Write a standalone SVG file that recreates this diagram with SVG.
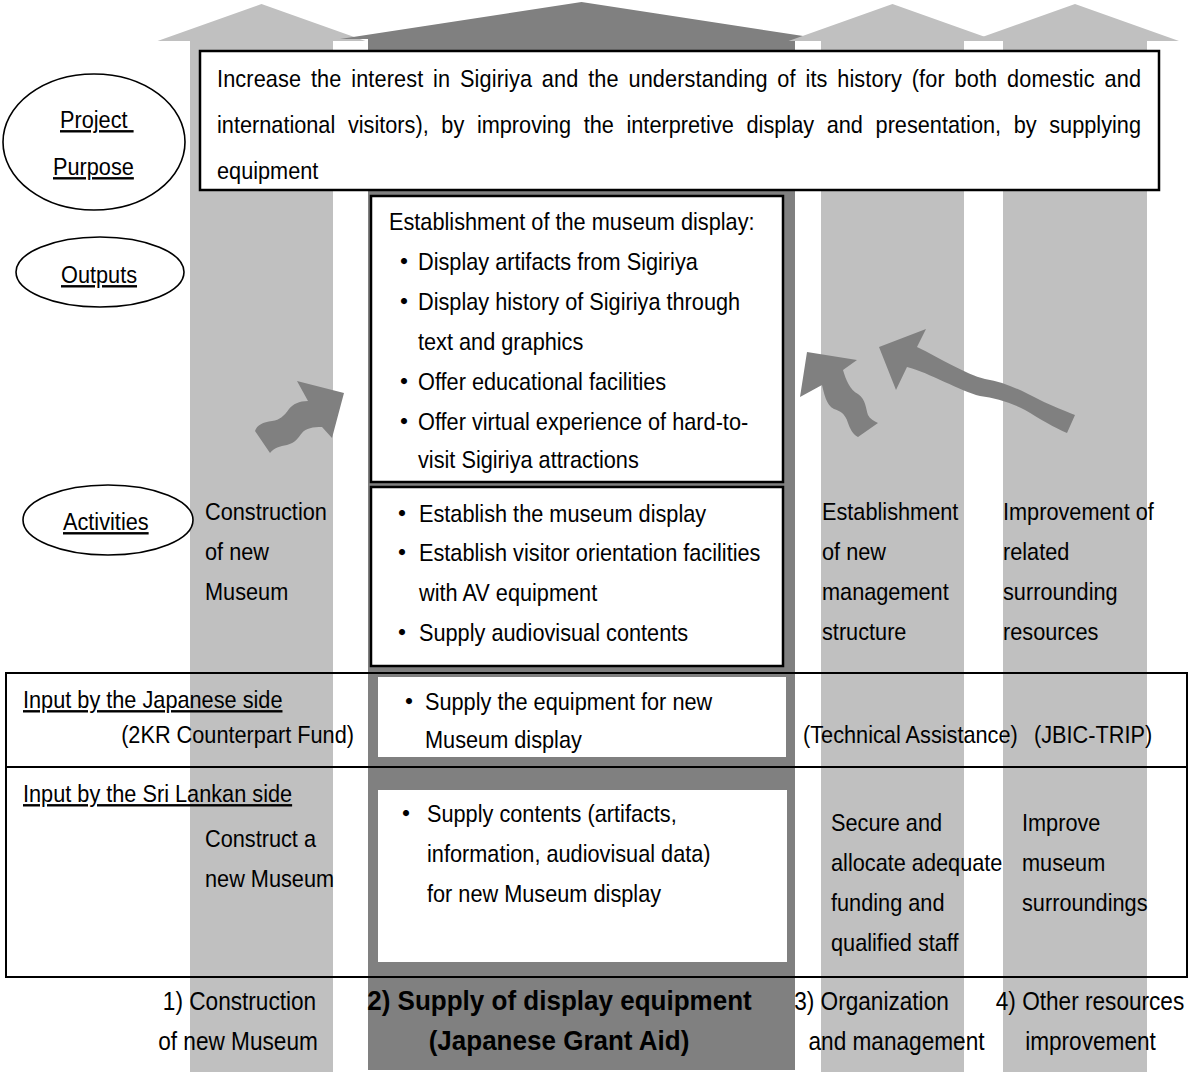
<svg xmlns="http://www.w3.org/2000/svg" width="1188" height="1077" viewBox="0 0 1188 1077">
<style>
.lt{fill:#c0c0c0}
.dk{fill:#808080}
.box{fill:#fff;stroke:#000;stroke-width:2.5}
.row{fill:none;stroke:#000;stroke-width:2}
.ell{fill:#fff;stroke:#000;stroke-width:1.6}
.wb{fill:#fff}
.t{font-family:"Liberation Sans",Arial,sans-serif;font-size:24px;fill:#000}
.u{text-decoration:underline}
.bl{font-family:"Noto Sans CJK JP","DejaVu Sans",sans-serif;font-size:24px;font-weight:bold;fill:#000}
.lb{font-family:"Liberation Sans",Arial,sans-serif;font-size:25px;fill:#000}
.bd{font-family:"Liberation Sans",Arial,sans-serif;font-size:28px;font-weight:bold;fill:#000}
</style>
<rect width="1188" height="1077" fill="#fff"/>
<g id="columns">
  <g id="col1"><polygon class="lt" points="261.5,4 365.5,41 333,41 333,1072 190,1072 190,41 157.5,41"/></g>
  <g id="col2"><polygon class="dk" points="581.5,2 823,39 795,39 795,1070 368,1070 368,39 340,39"/></g>
  <g id="col3"><polygon class="lt" points="892.5,4 996.5,41 964,41 964,1072 821,1072 821,41 788.5,41"/></g>
  <g id="col4"><polygon class="lt" points="1075,4 1179,41 1147,41 1147,1072 1003,1072 1003,41 971,41"/></g>
</g>
<g id="purpose">
  <rect class="box" x="200" y="51" width="959" height="139"/>
  <text class="t" transform="translate(217 87) scale(0.905 1)" word-spacing="4" textLength="1021" lengthAdjust="spacing">Increase the interest in Sigiriya and the understanding of its history (for both domestic and</text>
  <text class="t" transform="translate(217 133) scale(0.905 1)" word-spacing="7.3" textLength="1021" lengthAdjust="spacing">international visitors), by improving the interpretive display and presentation, by supplying</text>
  <text class="t" transform="translate(217 179) scale(0.905 1)">equipment</text>
</g>
<g id="label-purpose">
  <ellipse class="ell" cx="94" cy="142" rx="91" ry="68"/>
  <text class="t u" transform="translate(60 128) scale(0.905 1)" xml:space="preserve">Project </text>
  <text class="t u" transform="translate(53 175) scale(0.905 1)">Purpose</text>
</g>
<g id="label-outputs">
  <ellipse class="ell" cx="100" cy="272" rx="84" ry="35"/>
  <text class="t u" transform="translate(61 283) scale(0.905 1)">Outputs</text>
</g>
<g id="label-activities">
  <ellipse class="ell" cx="108" cy="520" rx="85" ry="35"/>
  <text class="t u" transform="translate(63 530) scale(0.905 1)">Activities</text>
</g>
<g id="outputs">
  <rect class="box" x="371" y="196" width="412" height="286"/>
  <text class="t" transform="translate(389 230) scale(0.905 1)">Establishment of the museum display:</text>
  <text class="bl" x="392" y="270">・</text>
  <text class="t" transform="translate(418 270) scale(0.905 1)">Display artifacts from Sigiriya</text>
  <text class="bl" x="392" y="310">・</text>
  <text class="t" transform="translate(418 310) scale(0.905 1)">Display history of Sigiriya through</text>
  <text class="t" transform="translate(418 350) scale(0.905 1)">text and graphics</text>
  <text class="bl" x="392" y="390">・</text>
  <text class="t" transform="translate(418 390) scale(0.905 1)">Offer educational facilities</text>
  <text class="bl" x="392" y="430">・</text>
  <text class="t" transform="translate(418 430) scale(0.905 1)">Offer virtual experience of hard-to-</text>
  <text class="t" transform="translate(418 468) scale(0.905 1)">visit Sigiriya attractions</text>
</g>
<g id="activities">
  <rect class="box" x="371" y="487" width="412" height="179"/>
  <text class="bl" x="390" y="522">・</text>
  <text class="t" transform="translate(419 522) scale(0.905 1)">Establish the museum display</text>
  <text class="bl" x="390" y="561">・</text>
  <text class="t" transform="translate(419 561) scale(0.905 1)">Establish visitor orientation facilities</text>
  <text class="t" transform="translate(419 601) scale(0.905 1)">with AV equipment</text>
  <text class="bl" x="390" y="641">・</text>
  <text class="t" transform="translate(419 641) scale(0.905 1)">Supply audiovisual contents</text>
</g>
<g id="col-activities">
  <text class="t" transform="translate(205 520) scale(0.905 1)">Construction</text>
  <text class="t" transform="translate(205 560) scale(0.905 1)">of new</text>
  <text class="t" transform="translate(205 600) scale(0.905 1)">Museum</text>
  <text class="t" transform="translate(822 520) scale(0.905 1)">Establishment</text>
  <text class="t" transform="translate(822 560) scale(0.905 1)">of new</text>
  <text class="t" transform="translate(822 600) scale(0.905 1)">management</text>
  <text class="t" transform="translate(822 640) scale(0.905 1)">structure</text>
  <text class="t" transform="translate(1003 520) scale(0.905 1)">Improvement of</text>
  <text class="t" transform="translate(1003 560) scale(0.905 1)">related</text>
  <text class="t" transform="translate(1003 600) scale(0.905 1)">surrounding</text>
  <text class="t" transform="translate(1003 640) scale(0.905 1)">resources</text>
</g>
<g id="input-japan">
  <rect class="row" x="6" y="673" width="1181" height="94"/>
  <rect class="wb" x="378" y="677" width="408" height="80"/>
  <text class="t u" transform="translate(23 708) scale(0.905 1)">Input by the Japanese side</text>
  <text class="t" text-anchor="end" transform="translate(354 743) scale(0.905 1)">(2KR Counterpart Fund)</text>
  <text class="bl" x="397" y="710">・</text>
  <text class="t" transform="translate(425 710) scale(0.905 1)">Supply the equipment for new</text>
  <text class="t" transform="translate(425 748) scale(0.905 1)">Museum display</text>
  <text class="t" transform="translate(803 743) scale(0.905 1)">(Technical Assistance)</text>
  <text class="t" transform="translate(1034 743) scale(0.905 1)">(JBIC-TRIP)</text>
</g>
<g id="input-srilanka">
  <rect class="row" x="6" y="767" width="1181" height="210"/>
  <rect class="wb" x="378" y="790" width="409" height="172"/>
  <text class="t u" transform="translate(23 802) scale(0.905 1)">Input by the Sri Lankan side</text>
  <text class="t" transform="translate(205 847) scale(0.905 1)">Construct a</text>
  <text class="t" transform="translate(205 887) scale(0.905 1)">new Museum</text>
  <text class="bl" x="394" y="822">・</text>
  <text class="t" transform="translate(427 822) scale(0.905 1)">Supply contents (artifacts,</text>
  <text class="t" transform="translate(427 862) scale(0.905 1)">information, audiovisual data)</text>
  <text class="t" transform="translate(427 902) scale(0.905 1)">for new Museum display</text>
  <text class="t" transform="translate(831 831) scale(0.905 1)">Secure and</text>
  <text class="t" transform="translate(831 871) scale(0.905 1)">allocate adequate</text>
  <text class="t" transform="translate(831 911) scale(0.905 1)">funding and</text>
  <text class="t" transform="translate(831 951) scale(0.905 1)">qualified staff</text>
  <text class="t" transform="translate(1022 831) scale(0.905 1)">Improve</text>
  <text class="t" transform="translate(1022 871) scale(0.905 1)">museum</text>
  <text class="t" transform="translate(1022 911) scale(0.905 1)">surroundings</text>
</g>
<g id="connectors">
  <path class="dk" d="M344,393 L297,381 L308,401 C299,401 293,404 289,409 C284,416 280,420 272,421 C263,422 257,425 255,431 L270,453 C274,448 280,446 287,445 C295,443 298,438 302,433 C306,428 313,427 322,427 L332,438 Z"/>
  <path class="dk" d="M807,352 L857,360 L843,370 C846,380 850,390 858,394 C866,399 866,410 868,415 C870,419 874,421 878,423 L858,437 C852,434 850,428 848,423 C845,413 840,411 834,409 C826,405 824,393 822,385 L800,397 Z"/>
  <path class="dk" d="M879,347 L926,329 L917,347 C940,358 965,374 985,379 C1005,382 1020,390 1040,400 C1052,406 1065,411 1075,415 L1067,433 C1055,428 1040,419 1025,410 C1010,402 995,398 980,396 C960,391 930,373 907,367 L896,390 Z"/>
</g>
<g id="bottom-labels">
  <text class="lb" text-anchor="middle" transform="translate(239.5 1010) scale(0.905 1)">1) Construction</text>
  <text class="lb" text-anchor="middle" transform="translate(238 1050) scale(0.905 1)">of new Museum</text>
  <text class="bd" text-anchor="middle" transform="translate(559.5 1010) scale(0.93 1)">2) Supply of display equipment</text>
  <text class="bd" text-anchor="middle" transform="translate(559 1050) scale(0.93 1)">(Japanese Grant Aid)</text>
  <text class="lb" text-anchor="middle" transform="translate(871.5 1010) scale(0.905 1)">3) Organization</text>
  <text class="lb" text-anchor="middle" transform="translate(896.5 1050) scale(0.905 1)">and management</text>
  <text class="lb" text-anchor="middle" transform="translate(1090 1010) scale(0.905 1)">4) Other resources</text>
  <text class="lb" text-anchor="middle" transform="translate(1090.5 1050) scale(0.905 1)">improvement</text>
</g>
</svg>
